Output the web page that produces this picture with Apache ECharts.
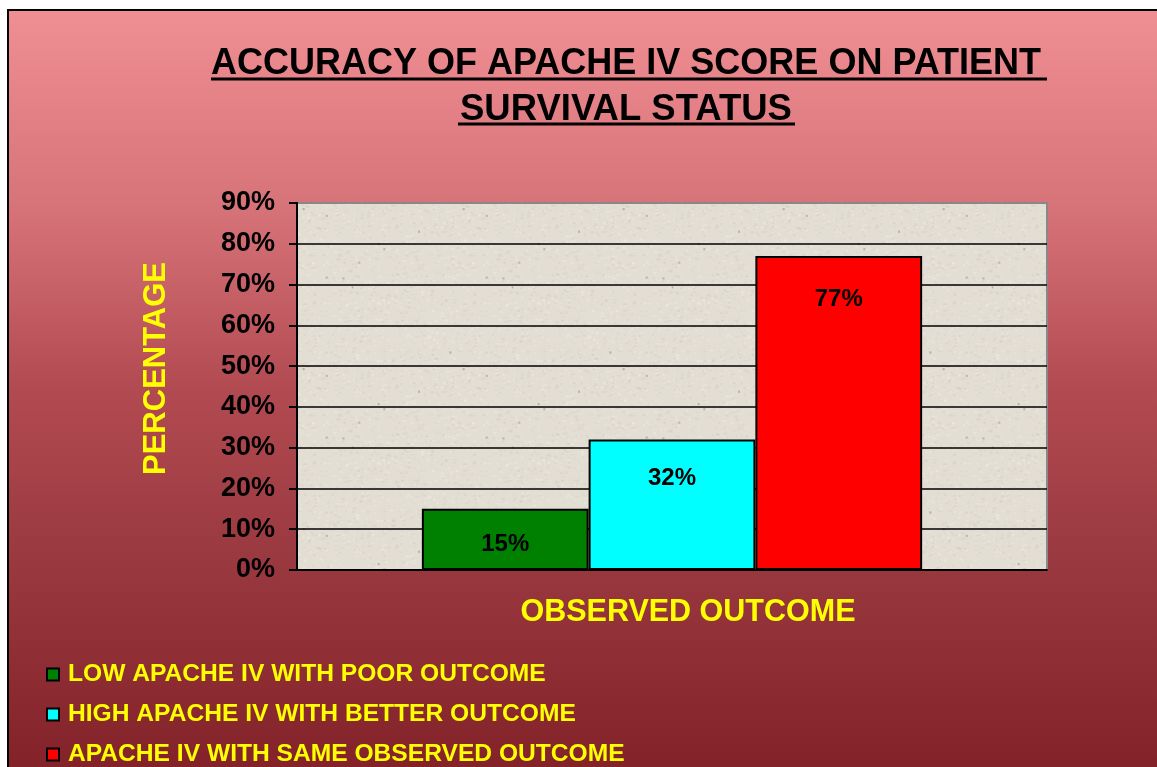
<!DOCTYPE html>
<html>
<head>
<meta charset="utf-8">
<script src="https://cdn.jsdelivr.net/npm/echarts@6/dist/echarts.min.js"></script>
<style>
  html, body { margin: 0; padding: 0; background: #ffffff; width: 1157px; height: 767px; overflow: hidden; }
  #frame { position: absolute; left: 7px; top: 9px; width: 1152px; height: 760px; border-left: 2px solid #000; border-top: 2px solid #000; overflow: hidden; }
  #chart { width: 1150px; height: 800px; }
</style>
</head>
<body>
<div id="frame"><div id="chart"></div></div>
<script>
// ---- data ----
const categories = ['OBSERVED OUTCOME'];
const seriesNames = [
  'LOW APACHE IV WITH POOR OUTCOME',
  'HIGH APACHE IV WITH BETTER OUTCOME',
  'APACHE IV WITH SAME OBSERVED OUTCOME'
];
const lowPoor = [15];
const highBetter = [32];
const sameObserved = [77];
const yTicks = [0, 10, 20, 30, 40, 50, 60, 70, 80, 90];
const titleLine1 = 'ACCURACY OF APACHE IV SCORE ON PATIENT ';
const titleLine2 = 'SURVIVAL STATUS';
const xAxisTitle = 'OBSERVED OUTCOME';
const yAxisTitle = 'PERCENTAGE';

// ---- styles ----
const seriesValues = [lowPoor, highBetter, sameObserved];
const seriesColors = ['#008000', '#00ffff', '#ff0000'];
const labelDistances = [24, 27, 31];
const FONT = 'Liberation Sans, Arial, sans-serif';

// subtle paper texture for the plot area (decorative only)
function makeTexture() {
  const c = document.createElement('canvas');
  c.width = 160; c.height = 160;
  const ctx = c.getContext('2d');
  ctx.fillStyle = '#e3ded3';
  ctx.fillRect(0, 0, 160, 160);
  let s = 98765;
  const rnd = () => { s = (s * 1103515245 + 12345) & 0x7fffffff; return s / 0x7fffffff; };
  for (let i = 0; i < 1400; i++) {
    const x = rnd() * 160, y = rnd() * 160;
    const d = rnd();
    ctx.fillStyle = d < 0.5 ? 'rgba(205,199,186,0.35)' : 'rgba(240,236,228,0.5)';
    ctx.fillRect(x, y, 1 + Math.floor(rnd() * 3), 1 + Math.floor(rnd() * 2));
  }
  for (let i = 0; i < 10; i++) {
    ctx.fillStyle = 'rgba(130,125,115,0.45)';
    ctx.fillRect(rnd() * 160, rnd() * 160, 2, 2);
  }
  return c;
}

const chart = echarts.init(document.getElementById('chart'));
chart.setOption({
  backgroundColor: {
    type: 'linear', x: 0, y: 0, x2: 0, y2: 1,
    colorStops: [
      { offset: 0, color: '#ef8e93' },
      { offset: 0.24, color: '#d7747a' },
      { offset: 0.47, color: '#b24b51' },
      { offset: 0.68, color: '#9a3940' },
      { offset: 0.945, color: '#84222a' },
      { offset: 1, color: '#84222a' }
    ]
  },
  animation: false,
  title: [
    {
      text: titleLine1, left: 202, top: 31, padding: 0,
      textStyle: { fontFamily: FONT, fontWeight: 'bold', fontSize: 36, lineHeight: 45, color: '#000' }
    },
    {
      text: titleLine2, left: 451, top: 76, padding: 0,
      textStyle: { fontFamily: FONT, fontWeight: 'bold', fontSize: 36.5, lineHeight: 45, color: '#000' }
    }
  ],
  graphic: [
    { type: 'line', shape: { x1: 202, y1: 68, x2: 1038, y2: 68 }, style: { stroke: '#000', lineWidth: 3 } },
    { type: 'line', shape: { x1: 449, y1: 113, x2: 786, y2: 113 }, style: { stroke: '#000', lineWidth: 3 } },
    { type: 'line', z: 100, shape: { x1: 289, y1: 192, x2: 1039, y2: 192 }, style: { stroke: '#888888', lineWidth: 2 } }
  ],
  legend: {
    orient: 'vertical', left: 37, top: 651, padding: 0,
    itemWidth: 12, itemHeight: 12, itemGap: 15,
    icon: 'rect',
    data: seriesNames,
    textStyle: { fontFamily: FONT, fontWeight: 'bold', fontSize: 24.6, lineHeight: 24, color: '#ffff00', padding: [0, 0, 0, 4] }
  },
  grid: {
    left: 288, top: 192, width: 750, height: 367,
    show: true, backgroundColor: { image: makeTexture(), repeat: 'repeat' }, borderColor: '#888888', borderWidth: 2
  },
  xAxis: {
    type: 'category', data: categories,
    name: xAxisTitle, nameLocation: 'middle', nameGap: 27,
    nameTextStyle: { fontFamily: FONT, fontWeight: 'bold', fontSize: 30.5, color: '#ffff00', padding: [0, 0, 0, 32] },
    axisLine: { lineStyle: { color: '#000', width: 2 } },
    axisTick: { show: false },
    axisLabel: { show: false }
  },
  yAxis: {
    type: 'value', min: 0, max: 90, interval: 10,
    name: yAxisTitle, nameLocation: 'middle', nameGap: 125, nameRotate: 90,
    nameTextStyle: { fontFamily: FONT, fontWeight: 'bold', fontSize: 31, color: '#ffff00', padding: [0, 0, 0, 36] },
    axisLine: { show: true, lineStyle: { color: '#000', width: 2 } },
    axisTick: { show: true, length: 8, lineStyle: { color: '#000', width: 2 } },
    axisLabel: {
      margin: 22, color: '#000', fontFamily: FONT, fontWeight: 'bold', fontSize: 27,
      formatter: v => (yTicks.indexOf(v) >= 0 ? v + '%' : '')
    },
    splitLine: { show: true, lineStyle: { color: '#000', width: 1.5 } }
  },
  series: seriesNames.map((n, i) => ({
    name: n, type: 'bar', data: seriesValues[i],
    barGap: '0%', barCategoryGap: '33.3%',
    itemStyle: { color: seriesColors[i], borderColor: '#000', borderWidth: 2 },
    label: {
      show: true, position: 'insideTop', distance: labelDistances[i],
      formatter: '{c}%', color: '#000', fontFamily: FONT, fontWeight: 'bold', fontSize: 24
    }
  }))
});
</script>
</body>
</html>
